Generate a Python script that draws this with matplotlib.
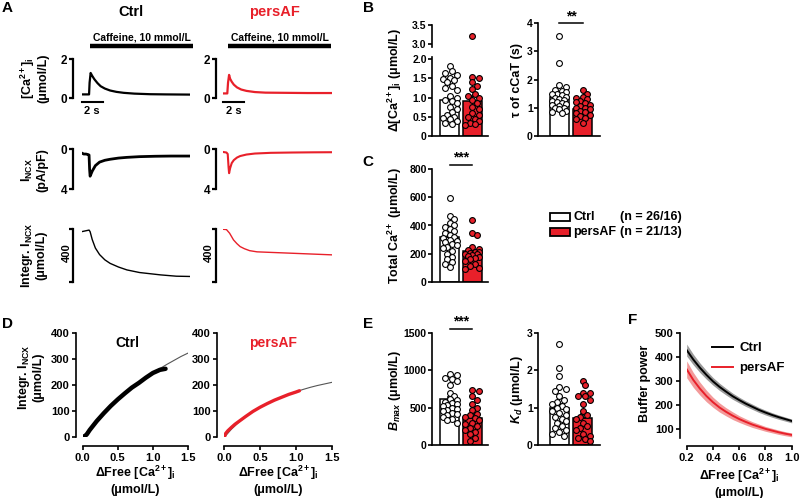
import numpy as np
import matplotlib
matplotlib.use("Agg")
import matplotlib.pyplot as plt
from matplotlib import transforms

plt.rcParams['font.family'] = ['Liberation Sans', 'DejaVu Sans']
plt.rcParams['font.weight'] = 'bold'
plt.rcParams['axes.labelweight'] = 'bold'
plt.rcParams['mathtext.fontset'] = 'custom'
plt.rcParams['mathtext.rm'] = 'Liberation Sans:bold'
plt.rcParams['mathtext.bf'] = 'Liberation Sans:bold'
plt.rcParams['mathtext.it'] = 'Liberation Sans:italic:bold'
plt.rcParams['mathtext.default'] = 'bf'

RED = '#e8202a'
W, H = 800, 498

# ---- panel A: example traces (time in s) ----
ca_t_ctrl = [0, 0.7, 0.75, 0.85, 1.0, 1.2, 1.5, 1.8, 2.2, 2.7, 3.3, 4.0, 5.0, 6.5, 8.0, 10.3]
ca_ctrl = [0.2, 0.2, 0.8, 1.3, 1.15, 0.98, 0.78, 0.62, 0.5, 0.4, 0.33, 0.28, 0.24, 0.21, 0.2, 0.19]
ca_t_af = [0, 0.38, 0.45, 0.55, 0.65, 0.8, 1.0, 1.3, 1.7, 2.2, 3.0, 4.0, 6.0, 8.0, 10.3]
ca_af = [0.25, 0.25, 0.8, 1.2, 1.0, 0.85, 0.7, 0.56, 0.45, 0.38, 0.32, 0.29, 0.28, 0.27, 0.27]

incx_t_ctrl = [0, 0.2, 0.4, 0.6, 0.7, 0.75, 0.8, 1.0, 1.3, 1.7, 2.2, 2.7, 3.5, 4.3, 5.5, 7.0, 8.5, 10.3]
incx_ctrl = [0.4, 0.5, 0.5, 0.55, 0.6, 2.0, 2.7, 2.2, 1.65, 1.3, 1.12, 1.02, 0.9, 0.83, 0.76, 0.72, 0.7, 0.7]
incx_t_af = [0, 0.3, 0.42, 0.5, 0.55, 0.65, 0.8, 1.0, 1.3, 1.6, 2.2, 3.0, 4.5, 6.5, 8.5, 10.3]
incx_af = [0.3, 0.35, 0.5, 1.8, 2.4, 1.9, 1.4, 1.1, 0.85, 0.7, 0.55, 0.45, 0.38, 0.35, 0.33, 0.32]

int_t_ctrl = [0, 0.7, 0.8, 1.0, 1.3, 1.7, 2.2, 2.7, 3.5, 4.3, 5.5, 7.5, 9.0, 10.3]
int_ctrl = [0, -12, 0, 60, 125, 175, 215, 242, 270, 292, 312, 330, 340, 342]
int_t_af = [0, 0.3, 0.6, 0.97, 1.3, 1.6, 2.0, 2.5, 3.2, 4.1, 6.6, 10.3]
int_af = [0, 2, 30, 81, 110, 132, 148, 163, 172, 175, 183, 195]

caff_on = [0.8, 0.45]
caff_off = [10.6, 10.25]

# ---- panels B, C, E: per-cell values ----
dca_ctrl = [1.82, 1.7, 1.65, 1.6, 1.52, 1.48, 1.45, 1.4, 1.3, 1.25, 1.2, 1.05, 1.0,
            0.95, 0.9, 0.85, 0.75, 0.7, 0.62, 0.55, 0.5, 0.48, 0.45, 0.4, 0.35, 0.32]
dca_af = [3.22, 1.55, 1.5, 1.4, 1.3, 1.22, 1.1, 1.05, 1.0, 0.95, 0.85, 0.75, 0.7,
          0.6, 0.55, 0.5, 0.45, 0.4, 0.35, 0.3, 0.28]
tau_ctrl = [3.55, 2.6, 1.8, 1.75, 1.65, 1.6, 1.55, 1.5, 1.48, 1.45, 1.4, 1.35, 1.3,
            1.28, 1.25, 1.2, 1.18, 1.15, 1.1, 1.05, 1.0, 0.98, 0.95, 0.9, 0.85, 0.8]
tau_af = [1.65, 1.5, 1.4, 1.35, 1.3, 1.25, 1.2, 1.18, 1.1, 1.05, 1.0, 0.98, 0.95,
          0.9, 0.85, 0.8, 0.75, 0.7, 0.65, 0.6, 0.45]
tot_ctrl = [595, 465, 445, 420, 400, 390, 375, 360, 345, 335, 320, 310, 300, 290,
            280, 270, 260, 250, 240, 220, 200, 180, 160, 140, 125, 105]
tot_af = [440, 350, 330, 245, 235, 225, 215, 210, 205, 200, 195, 190, 185, 180,
          170, 160, 150, 130, 115, 100, 95]
bmax_ctrl = [950, 930, 900, 880, 850, 800, 700, 660, 620, 600, 580, 560, 550, 530,
             520, 500, 480, 470, 450, 430, 420, 400, 380, 350, 330, 300]
bmax_af = [740, 720, 650, 600, 550, 500, 470, 420, 400, 380, 360, 340, 300, 280,
           250, 230, 200, 180, 150, 100, 60]
kd_ctrl = [2.7, 2.07, 1.85, 1.55, 1.5, 1.45, 1.3, 1.2, 1.15, 1.1, 1.05, 1.0, 0.95,
           0.9, 0.85, 0.8, 0.75, 0.7, 0.65, 0.6, 0.5, 0.45, 0.4, 0.35, 0.3, 0.25]
kd_af = [1.72, 1.6, 1.4, 1.4, 1.3, 1.3, 1.2, 1.1, 0.9, 0.8, 0.75, 0.7, 0.6, 0.5,
         0.45, 0.4, 0.3, 0.25, 0.2, 0.15, 0.1]

# bar heights (mean) and SEM as shown
dca_mean, dca_sem = [0.95, 0.9], [0.08, 0.15]
tau_mean, tau_sem = [1.38, 0.97], [0.12, 0.07]
tot_mean, tot_sem = [318, 218], [22, 20]
bmax_mean, bmax_sem = [610, 365], [35, 45]
kd_mean, kd_sem = [1.0, 0.73], [0.1, 0.11]

# ---- panel D ----
fit_x = [0.0, 0.1, 0.2, 0.3, 0.4, 0.5, 0.6, 0.7, 0.8, 0.9, 1.0, 1.1, 1.2, 1.3, 1.4, 1.5]
fit_ctrl = [0, 33, 64, 92, 119, 143, 167, 188, 209, 228, 246, 263, 279, 294, 309, 322]
fit_af = [0, 31, 57, 79, 98, 115, 130, 143, 154, 165, 174, 183, 191, 198, 204, 210]
dx_ctrl = [0.0, 0.03, 0.06, 0.1, 0.15, 0.2, 0.3, 0.4, 0.5, 0.6, 0.7, 0.8, 0.9, 1.0, 1.1, 1.18]
dy_ctrl = [2, 4, 12, 28, 45, 62, 92, 120, 145, 168, 190, 208, 228, 246, 258, 262]
dx_af = [0.0, 0.02, 0.05, 0.1, 0.15, 0.2, 0.3, 0.4, 0.5, 0.6, 0.7, 0.8, 0.9, 1.0, 1.05]
dy_af = [0, 15, 25, 38, 50, 60, 80, 99, 115, 129, 142, 153, 164, 173, 178]

# ---- panel F ----
bp_x = [0.2, 0.25, 0.3, 0.35, 0.4, 0.45, 0.5, 0.55, 0.6, 0.65, 0.7, 0.75, 0.8, 0.85, 0.9, 0.95, 1.0]
bp_ctrl = [430, 391, 357, 327, 300, 277, 257, 238, 222, 207, 194, 181, 170, 160, 151, 143, 135]
bp_ctrl_err = [25, 22, 20, 18, 16, 15, 14, 13, 12, 11.5, 11, 10.5, 10, 9.5, 9, 8.5, 8]
bp_af = [350, 306, 270, 239, 213, 191, 173, 157, 143, 131, 120, 111, 102, 95, 88, 82, 77]
bp_af_err = [35, 31, 27, 24, 21, 19, 17, 16, 14, 13, 12, 11, 10, 9.5, 9, 8.5, 8]

fig = plt.figure(figsize=(8, 4.98), dpi=100)


def box(x0, y0, x1, y1):
    return fig.add_axes([x0 / W, 1 - y1 / H, (x1 - x0) / W, (y1 - y0) / H])


def ftext(x, y, s, **kw):
    kw.setdefault('ha', 'center')
    kw.setdefault('va', 'center')
    return fig.text(x / W, 1 - y / H, s, **kw)


def trace_ax(x0, x1, y0, y1, off):
    ax = box(x0, y0, x1, y1)
    for s in ['top', 'right', 'bottom']:
        ax.spines[s].set_visible(False)
    ax.spines['left'].set_position(('outward', off * 0.72))
    ax.spines['left'].set_linewidth(1.6)
    ax.tick_params(axis='y', width=1.6, length=3, labelsize=8.5, pad=1)
    ax.set_xticks([])
    ax.set_xlim(0, 10.3)
    ax.patch.set_visible(False)
    return ax


def swarm(ax, center, values, diam=5.0, step=2.3, maxoff=9.0):
    vals = np.asarray(values, float)
    pts = ax.transData.transform(np.column_stack([np.full(len(vals), center), vals]))
    ppu = ax.transData.transform([[1, 0]])[0, 0] - ax.transData.transform([[0, 0]])[0, 0]
    placed = []
    offs = np.zeros(len(vals))
    cands = [0.0]
    k = 1
    while k * step <= maxoff:
        cands += [k * step, -k * step]
        k += 1
    for i in np.argsort(-vals):
        y = pts[i, 1]
        best, best_d = 0.0, -1
        for c in cands:
            d = min([np.hypot(c - px, y - py) for px, py in placed] + [99])
            if d >= diam:
                best = c
                break
            if d > best_d:
                best, best_d = c, d
        placed.append((best, y))
        offs[i] = best
    return center + offs / ppu


def bar_ax(xs, c0, c1, xe, ytop, ybot, ylim):
    unit = c1 - c0
    ax = box(xs, ytop, xe, ybot)
    ax.set_xlim((xs - c0) / unit, (xe - c0) / unit)
    ax.set_ylim(*ylim)
    for s in ['top', 'right']:
        ax.spines[s].set_visible(False)
    for s in ['left', 'bottom']:
        ax.spines[s].set_linewidth(1.2)
    ax.tick_params(axis='y', width=1.2, length=3, labelsize=7.5, pad=1)
    ax.set_xticks([])
    ax.patch.set_visible(False)
    ax._bw = 19.0 / unit
    return ax


def bars(ax, ctrl, af, mean, sem):
    ax.bar([0, 1], mean, width=ax._bw, color=['white', RED], edgecolor='black',
           linewidth=1.1, zorder=2)
    ax.errorbar([0, 1], mean, yerr=[[0, 0], sem], fmt='none', ecolor='black',
                elinewidth=1.1, capsize=2.5, capthick=1.1, zorder=3)
    for i, (vals, fc) in enumerate([(ctrl, 'white'), (af, RED)]):
        xs = swarm(ax, i, vals)
        ax.plot(xs, vals, 'o', ms=4.2, mfc=fc, mec='black', mew=0.8,
                zorder=4, clip_on=False)


def sig(ax, y, s):
    ax.plot([0, 1], [y, y], color='black', lw=1.1, clip_on=False)
    ax.text(0.5, y, s, ha='center', va='bottom', fontsize=10, fontweight='bold')


# ================= Panel A =================
cols = [(81.7, 190, 9, 'black', ca_t_ctrl, ca_ctrl, incx_t_ctrl, incx_ctrl,
         int_t_ctrl, int_ctrl, (382, -18)),
        (223.3, 331.7, 7.5, RED, ca_t_af, ca_af, incx_t_af, incx_af,
         int_t_af, int_af, (400, 0))]
for j, (x0, x1, off, col, ct, cv, it, iv, gt, gv, glim) in enumerate(cols):
    ax = trace_ax(x0, x1, 59.3, 98.3, off)
    ax.set_ylim(0, 2)
    ax.set_yticks([0, 2])
    ax.plot(ct, cv, color=col, lw=1.6)
    ax.spines['bottom'].set_visible(True)
    ax.spines['bottom'].set_bounds(0, 2)
    ax.spines['bottom'].set_position(('outward', 3))
    ax.spines['bottom'].set_linewidth(1.5)
    ax.set_xticks([1])
    ax.set_xticklabels(['2 s'])
    ax.tick_params(axis='x', length=0, labelsize=8, pad=2.5)
    tr = transforms.blended_transform_factory(ax.transData, ax.transAxes)
    ax.plot([caff_on[j], caff_off[j]], [1.34, 1.34], color='black', lw=3.2,
            transform=tr, clip_on=False, solid_capstyle='butt')
    ax.text((caff_on[j] + caff_off[j]) / 2, 1.57, 'Caffeine, 10 mmol/L', transform=tr,
            ha='center', va='center', fontsize=7.5, fontweight='bold')

    ax = trace_ax(x0, x1, 149, 189.3, off)
    ax.set_ylim(4, 0)
    ax.set_yticks([0, 4])
    ax.plot(it, iv, color=col, lw=2.0 if j == 0 else 1.5)

    ax = trace_ax(x0, x1, 229.3, 281.7, off)
    ax.set_ylim(*glim)
    ax.set_yticks(list(glim))
    ax.set_yticklabels(['', ''])
    ax.plot(gt, gv, color=col, lw=1.0)

ftext(131, 12, 'Ctrl', fontsize=10.5, fontweight='bold')
ftext(275, 12, 'persAF', fontsize=10.5, fontweight='bold', color=RED)
ftext(67.3, 253, '400', rotation=90, fontsize=8)
ftext(209, 253, '400', rotation=90, fontsize=8)
ftext(34, 78, '[Ca$^{2+}$]$_{i}$\n(μmol/L)', rotation=90, fontsize=9, linespacing=1.1)
ftext(34, 170, 'I$_{NCX}$\n(pA/pF)', rotation=90, fontsize=9, linespacing=1.1)
ftext(33, 255, 'Integr. I$_{NCX}$\n(μmol/L)', rotation=90, fontsize=9, linespacing=1.1)

# ================= Panel B =================
L = (432.3, 449.7, 472.3, 488.3)
R = (538.3, 559.3, 582.7, 600)

axl = bar_ax(*L, 56.7, 136, (0, 2.068))
axl.set_yticks([0, 0.5, 1, 1.5, 2])
axl.set_yticklabels(['0', '0.5', '1.0', '1.5', '2.0'])
low = [v for v in dca_af if v < 2.5]
high = [v for v in dca_af if v >= 2.5]
bars(axl, dca_ctrl, low, dca_mean, dca_sem)
axu = bar_ax(*L, 25, 47.3, (2.913, 3.5))
axu.spines['bottom'].set_visible(False)
axu.set_yticks([3.0, 3.5])
axu.set_yticklabels(['3.0', '3.5'])
axu.plot([1] * len(high), high, 'o', ms=4.2, mfc=RED, mec='black', mew=0.8, clip_on=False)
ftext(395, 80, 'Δ[Ca$^{2+}$]$_{i}$ (μmol/L)', rotation=90, fontsize=9)

ax = bar_ax(*R, 23.3, 136, (0, 4))
ax.set_yticks([0, 1, 2, 3, 4])
bars(ax, tau_ctrl, tau_af, tau_mean, tau_sem)
sig(ax, 4.0, '**')
ftext(516.7, 80, 'τ of cCaT (s)', rotation=90, fontsize=9)

# ================= Panel C =================
ax = bar_ax(*L, 169, 282, (0, 800))
ax.set_yticks([0, 200, 400, 600, 800])
bars(ax, tot_ctrl, tot_af, tot_mean, tot_sem)
sig(ax, 830, '***')
ftext(395, 225, 'Total Ca$^{2+}$ (μmol/L)', rotation=90, fontsize=9)

# legend
for yy, fc, lab, n in [(216.7, 'white', 'Ctrl', '(n = 26/16)'),
                       (232.2, RED, 'persAF', '(n = 21/13)')]:
    fig.add_artist(plt.Rectangle((550 / W, 1 - (yy + 4) / H), 20 / W, 8 / H,
                                 facecolor=fc, edgecolor='black', lw=1.3,
                                 transform=fig.transFigure))
    ftext(573, yy, lab, ha='left', fontsize=9)
    ftext(620, yy, n, ha='left', fontsize=9)

# ================= Panel D =================
for x0, x1, off, fit, dx, dy, col, lw, title in [
        (82.7, 188, 7, fit_ctrl, dx_ctrl, dy_ctrl, 'black', 3.2, 'Ctrl'),
        (224.3, 331.7, 7.6, fit_af, dx_af, dy_af, RED, 2.4, 'persAF')]:
    ax = box(x0, 332.7, x1, 437.3)
    ax.set_xlim(0, 1.5)
    ax.set_ylim(0, 400)
    for s in ['top', 'right']:
        ax.spines[s].set_visible(False)
    ax.spines['left'].set_position(('outward', off * 0.72))
    ax.spines['bottom'].set_position(('outward', 6.5))
    for s in ['left', 'bottom']:
        ax.spines[s].set_linewidth(1.2)
    ax.tick_params(width=1.2, length=3, labelsize=8, pad=1.5)
    ax.set_yticks([0, 100, 200, 300, 400])
    ax.set_xticks([0, 0.5, 1.0, 1.5])
    ax.set_xticklabels(['0.0', '0.5', '1.0', '1.5'])
    ax.patch.set_visible(False)
    ax.plot(fit_x, fit, color='#555555', lw=0.8, zorder=2)
    ax.plot(dx, dy, color=col, lw=lw, zorder=3, solid_capstyle='round')
    ax.text(0.42 if title == 'Ctrl' else 0.45, 0.9, title, transform=ax.transAxes,
            ha='center', va='center', fontsize=10,
            color=RED if title == 'persAF' else 'black')
ftext(30, 377, 'Integr. I$_{NCX}$\n(μmol/L)', rotation=90, fontsize=9, linespacing=1.1)
ftext(135, 480, 'ΔFree [Ca$^{2+}$]$_{i}$\n(μmol/L)', fontsize=9, linespacing=1.15)
ftext(278, 480, 'ΔFree [Ca$^{2+}$]$_{i}$\n(μmol/L)', fontsize=9, linespacing=1.15)

# ================= Panel E =================
ax = bar_ax(*L, 332.7, 445, (0, 1500))
ax.set_yticks([0, 500, 1000, 1500])
bars(ax, bmax_ctrl, bmax_af, bmax_mean, bmax_sem)
sig(ax, 1553, '***')
ftext(395, 390, '$\\mathit{B}_{\\mathit{max}}$ (μmol/L)', rotation=90, fontsize=9)

ax = bar_ax(*R, 332.7, 445, (0, 3))
ax.set_yticks([0, 1, 2, 3])
bars(ax, kd_ctrl, kd_af, kd_mean, kd_sem)
ftext(516.7, 390, '$\\mathit{K}_{\\mathit{d}}$ (μmol/L)', rotation=90, fontsize=9)

# ================= Panel F =================
ax = box(686.7, 333.3, 791.7, 438)
ax.set_xlim(0.2, 1.0)
ax.set_ylim(64, 500)
for s in ['top', 'right']:
    ax.spines[s].set_visible(False)
ax.spines['left'].set_position(('outward', 5))
ax.spines['bottom'].set_position(('outward', 6))
for s in ['left', 'bottom']:
    ax.spines[s].set_linewidth(1.2)
ax.tick_params(width=1.2, length=3, labelsize=8, pad=1.5)
ax.set_yticks([100, 200, 300, 400, 500])
ax.set_xticks([0.2, 0.4, 0.6, 0.8, 1.0])
ax.set_xticklabels(['0.2', '0.4', '0.6', '0.8', '1.0'])
ax.patch.set_visible(False)
bx = np.array(bp_x)
for m, e, lc, fc, lab in [(bp_ctrl, bp_ctrl_err, 'black', '#9a9a9a', 'Ctrl'),
                          (bp_af, bp_af_err, RED, '#f39a9a', 'persAF')]:
    m, e = np.array(m), np.array(e)
    ax.fill_between(bx, m - e, m + e, color=fc, lw=0)
    ax.plot(bx, m, color=lc, lw=1.4, label=lab)
ax.legend(loc='upper right', bbox_to_anchor=(1.05, 1.03), frameon=False, fontsize=9.5,
          handlelength=1.6, handletextpad=0.5, labelspacing=0.6)
ftext(645, 383, 'Buffer power', rotation=90, fontsize=9)
ftext(739, 483, 'ΔFree [Ca$^{2+}$]$_{i}$\n(μmol/L)', fontsize=9, linespacing=1.15)

# panel letters
for lx, ly, s in [(7, 8, 'A'), (368, 8, 'B'), (368, 162, 'C'),
                  (7, 324, 'D'), (368, 324, 'E'), (633, 320, 'F')]:
    ftext(lx, ly, s, fontsize=11)

fig.savefig('out.png', dpi=100)
